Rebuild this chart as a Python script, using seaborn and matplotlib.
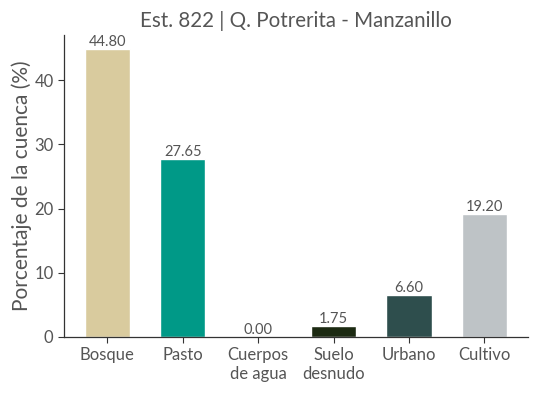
import matplotlib
matplotlib.use('Agg')
import matplotlib.pyplot as plt
import seaborn as sns
import pandas as pd

# ── Data ──────────────────────────────────────────────────────────────────────
categories = ['Bosque', 'Pasto', 'Cuerpos\nde agua', 'Suelo\ndesnudo', 'Urbano', 'Cultivo']
values = [44.80, 27.65, 0.00, 1.75, 6.60, 19.20]
colors = ['#D9CB9E', '#009987', '#1F77B4', '#1C2A12', '#2E4E4D', '#BEC3C6']

df = pd.DataFrame({'cobertura': categories, 'pct': values})

# ── Style ─────────────────────────────────────────────────────────────────────
sns.set_style('ticks')
plt.rcParams['font.family'] = ['Lato', 'DejaVu Sans']
TXT = '#555555'

fig = plt.figure(figsize=(5.38, 3.93), dpi=100)
ax = fig.add_axes([0.119, 0.1425, 0.862, 0.7685])

sns.barplot(data=df, x='cobertura', y='pct', hue='cobertura',
            palette=colors, saturation=1, width=0.6, legend=False, ax=ax)

for cont in ax.containers:
    ax.bar_label(cont, fmt='%.2f', padding=0, fontsize=10.5, color=TXT)

ax.set_xlim(-0.575, 5.575)
ax.set_ylim(0, 47.04)
ax.set_yticks([0, 10, 20, 30, 40])
ax.set_title('Est. 822 | Q. Potrerita - Manzanillo', fontsize=14.8, color=TXT, pad=6)
ax.set_xlabel('')
ax.set_ylabel('Porcentaje de la cuenca (%)', fontsize=15, color=TXT, labelpad=2)
ax.tick_params(axis='both', labelsize=12, colors='#333333', labelcolor=TXT, length=4)
for s in ['left', 'bottom']:
    ax.spines[s].set_color('#333333')
    ax.spines[s].set_linewidth(0.9)
sns.despine(ax=ax)

plt.savefig('out.png', dpi=100)
plt.close()
